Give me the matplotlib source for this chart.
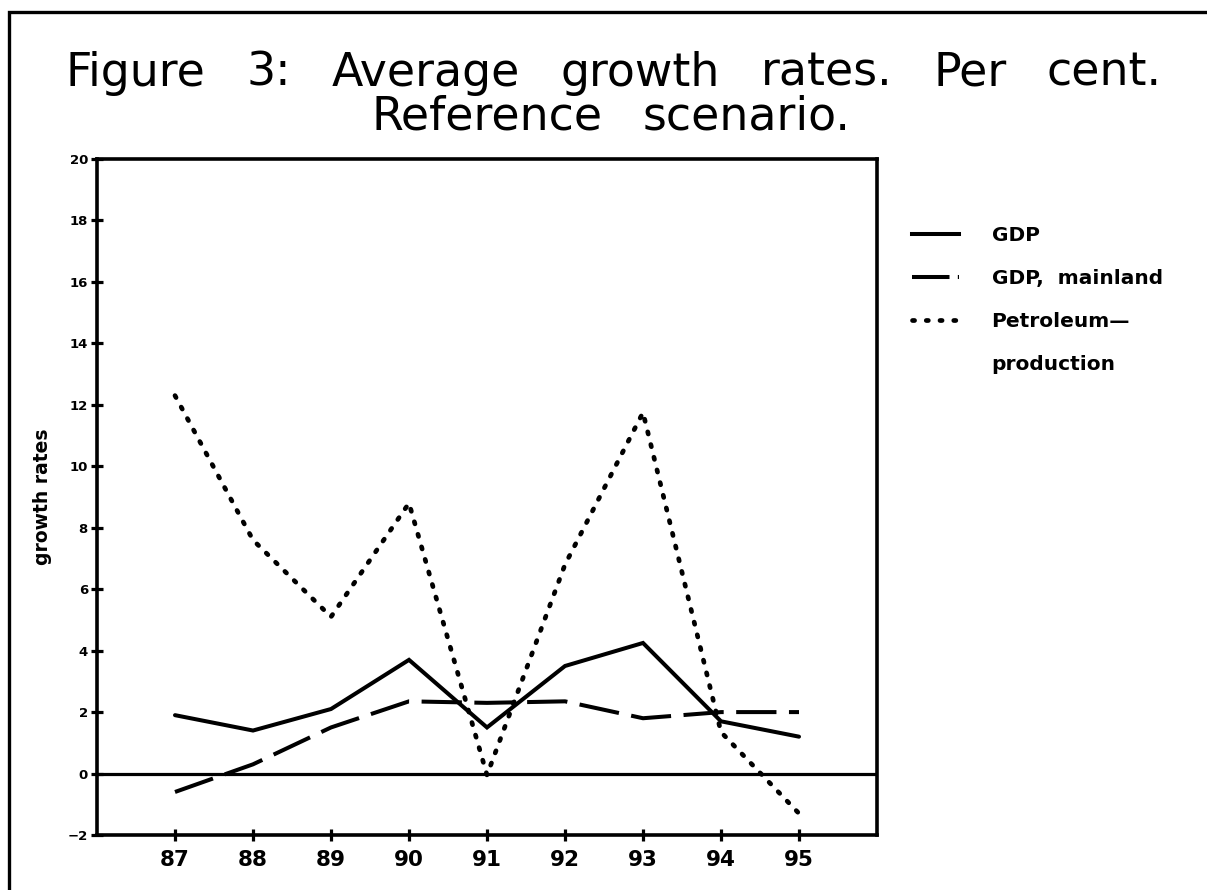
import matplotlib
matplotlib.use("Agg")
import matplotlib.pyplot as plt
from matplotlib.lines import Line2D
from matplotlib.patches import Rectangle

# ---- data -------------------------------------------------------------
years = [87, 88, 89, 90, 91, 92, 93, 94, 95]
year_labels = ["87", "88", "89", "90", "91", "92", "93", "94", "95"]
gdp = [1.9, 1.4, 2.1, 3.7, 1.5, 3.5, 4.25, 1.7, 1.2]
gdp_mainland = [-0.6, 0.3, 1.5, 2.35, 2.3, 2.35, 1.8, 2.0, 2.0]
petroleum = [12.3, 7.6, 5.1, 8.8, -0.05, 6.8, 11.75, 1.35, -1.3]
y_ticks = [-2, 0, 2, 4, 6, 8, 10, 12, 14, 16, 18, 20]
series_labels = ["GDP", "GDP,  mainland", "Petroleum\u2014", "production"]
title_line1 = ["Figure", "3:", "Average", "growth", "rates.", "Per", "cent."]
title_line2 = ["Reference", "scenario."]

plt.rcParams["lines.scale_dashes"] = False
plt.rcParams["font.family"] = ["DejaVu Sans"]

W, H = 1207, 890
fig = plt.figure(figsize=(W / 100, H / 100), dpi=100)
fig.patch.set_facecolor("white")

# outer frame of the page
fig.add_artist(Rectangle((9 / W, -0.05), 1.1, (H - 12) / H + 0.05,
                         transform=fig.transFigure, fill=False,
                         edgecolor="black", linewidth=2.4))


def place_words(words, baseline, size, x0=None, x1=None, gap=None, center=None):
    """Set a line of words either spread between x0 and x1 with equal gaps,
    or with a given gap and centred on `center` (all in pixels)."""
    texts = [fig.text(0, 1 - baseline / H, w, ha="left", va="baseline",
                      fontsize=size, color="black") for w in words]
    renderer = fig.canvas.get_renderer()
    widths = [t.get_window_extent(renderer).width for t in texts]
    if gap is None:
        gap = (x1 - x0 - sum(widths)) / max(len(words) - 1, 1)
    else:
        x0 = center - (sum(widths) + gap * (len(words) - 1)) / 2
    x = x0
    for t, w in zip(texts, widths):
        t.set_x(x / W)
        x += w + gap
    return gap


word_gap = place_words(title_line1, 86, 33, x0=66, x1=1162)
place_words(title_line2, 129, 33, gap=word_gap, center=611)

left, right, top, bottom = 97, 877, 159, 835
ax = fig.add_axes([left / W, 1 - bottom / H, (right - left) / W, (bottom - top) / H])

ax.set_xlim(86, 96)
ax.set_ylim(-2, 20)

lw = 2.9
ax.plot(years, gdp, color="black", linewidth=lw, solid_joinstyle="miter",
        solid_capstyle="round")
ax.plot(years, gdp_mainland, color="black", linewidth=lw,
        dashes=(29, 9), dash_capstyle="butt")
ax.plot(years, petroleum, color="black", linewidth=3.4,
        dashes=(1.6, 7.8), dash_capstyle="round")

ax.axhline(0, color="black", linewidth=2.3)

for s in ax.spines.values():
    s.set_linewidth(2.6)

ax.set_xticks(years)
ax.set_xticklabels(year_labels, fontsize=15.5, fontweight="heavy")
ax.set_yticks(y_ticks)
ax.set_yticklabels([str(v) if v >= 0 else "\u22122" for v in y_ticks],
                   fontsize=9.5, fontweight="heavy")
ax.tick_params(axis="x", direction="inout", length=9, width=2.3, pad=6)
ax.tick_params(axis="y", direction="inout", length=9, width=2.3, pad=2)

ax.set_ylabel("growth rates", fontsize=13.5, fontweight="bold", labelpad=11)

# legend
handles = [
    Line2D([], [], color="black", linewidth=2.9),
    Line2D([], [], color="black", linewidth=2.9, dashes=(27, 6, 2.5, 100),
           dash_capstyle="butt"),
    Line2D([], [], color="black", linewidth=3.4, dashes=(1.5, 8.4),
           dash_capstyle="round"),
    Line2D([], [], linestyle="none"),
]
leg = fig.legend(handles, series_labels, loc="upper left",
                 bbox_to_anchor=(912 / W, 1 - 226 / H),
                 bbox_transform=fig.transFigure, frameon=False,
                 prop={"size": 14.5, "weight": "heavy"},
                 handlelength=2.35, handletextpad=1.6, labelspacing=1.2,
                 borderpad=0, borderaxespad=0)

fig.savefig("out.png", dpi=100, facecolor="white")
